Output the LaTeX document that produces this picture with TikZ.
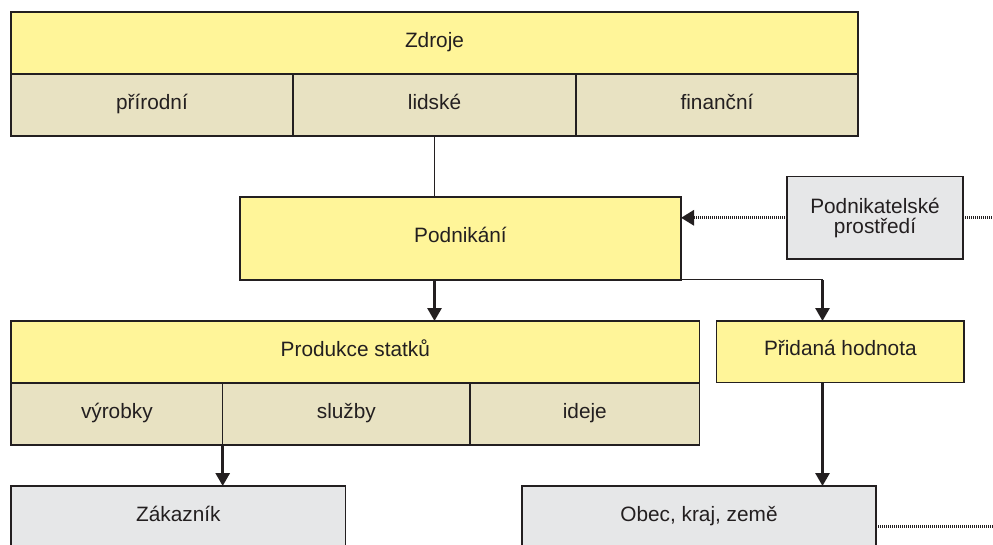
\documentclass[tikz,border=0pt]{standalone}
\usepackage{fontspec}
\setmainfont{Liberation Sans}
\usetikzlibrary{arrows.meta}
\definecolor{boxyellow}{HTML}{FFF599}
\definecolor{boxbeige}{HTML}{E8E2C2}
\definecolor{boxgray}{HTML}{E6E7E8}
\definecolor{ink}{HTML}{231F20}
\tikzset{
  cell/.style={draw=ink, line width=1.2pt, inner sep=0pt, outer sep=0pt,
    text=ink, font=\fontsize{20.8}{20.5}\selectfont, align=center,
    text height=15pt, text depth=6.4pt},
  ycell/.style={cell, fill=boxyellow},
  bcell/.style={cell, fill=boxbeige},
  gcell/.style={cell, fill=boxgray},
  lowcell/.style={gcell, minimum height=80pt, text height=15pt, text depth=24pt},
  thinline/.style={draw=ink, line width=1pt},
  arr/.style={draw=ink, line width=2.8pt, -{Triangle[length=13pt,width=14pt]}},
  dotline/.style={draw=ink, line width=3pt, dash pattern=on 1pt off 1pt},
  dotarr/.style={dotline, -{Triangle[length=13pt,width=15pt]}}
}
\begin{document}
\begin{tikzpicture}[x=1pt,y=-1pt]
\useasboundingbox (0,0) rectangle (993,545);
\clip (0,0) rectangle (993,545);
\fill[white] (0,0) rectangle (993,545);
% Zdroje
\node[ycell, minimum width=847pt, minimum height=62pt] (zdroje) at (434.5,43) {Zdroje};
\node[bcell, minimum width=282pt, minimum height=62pt] (prir) at (152,105) {přírodní};
\node[bcell, minimum width=283pt, minimum height=62pt] (lid) at (434.5,105) {lidské};
\node[bcell, minimum width=282pt, minimum height=62pt] (fin) at (717,105) {finanční};
% Podnikani
\node[ycell, minimum width=441pt, minimum height=83pt] (podn) at (460.5,238.5) {Podnikání};
\node[gcell, minimum width=176pt, minimum height=82.3pt, text height=, text depth=] (pp) at (875,217.8) {Podnikatelské\\prostředí};
% Produkce
\node[ycell, minimum width=688.6pt, minimum height=62pt] (prod) at (355.3,352) {Produkce statků};
\node[bcell, minimum width=211.7pt, minimum height=62pt] (vyr) at (116.85,414) {výrobky};
\node[bcell, minimum width=247.3pt, minimum height=62pt] (slu) at (346.35,414) {služby};
\node[bcell, minimum width=229.6pt, minimum height=62pt] (ide) at (584.8,414) {ideje};
\node[ycell, minimum width=247.3pt, minimum height=61.3pt] (prid) at (840.35,351.65) {Přidaná hodnota};
% bottom
\node[lowcell, minimum width=334.7pt] (zak) at (178.35,526) {Zákazník};
\node[lowcell, minimum width=354pt] (obec) at (699,526) {Obec, kraj, země};
% connectors
\coordinate (k) at (822.5,280);
\coordinate (ppout) at (995,217.8);
\coordinate (obecout) at (995,526.5);
\draw[thinline] (lid.south) -- (lid.south |- podn.north);
\draw[arr] (lid.south |- podn.south) -- (lid.south |- prod.north);
\draw[thinline] (podn.south east) -- (k);
\draw[arr] (k) -- (k |- prid.north);
\draw[arr] (vyr.south east) -- (vyr.south east |- zak.north);
\draw[arr] (k |- prid.south) -- (k |- obec.north);
\draw[dotarr] (pp.west) -- (pp.west -| podn.east);
\draw[dotline] (pp.east) -- (ppout);
\draw[dotline] (obec.east) -- (obec.east -| obecout);
\end{tikzpicture}
\end{document}
